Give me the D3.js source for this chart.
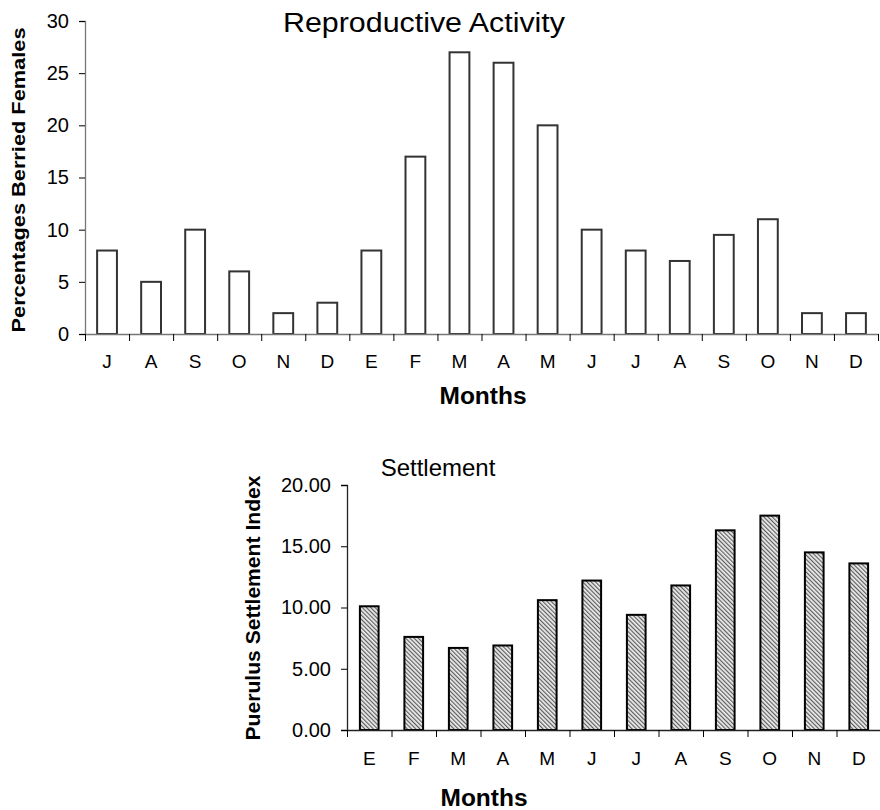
<!DOCTYPE html>
<html><head><meta charset="utf-8">
<script src="https://cdn.jsdelivr.net/npm/d3@7"></script>
<style>body{margin:0;background:#fff}svg{display:block;font-family:"Liberation Sans",Arial,sans-serif}</style>
</head><body>
<script>
const repMonths = ["J","A","S","O","N","D","E","F","M","A","M","J","J","A","S","O","N","D"];
const repValues = [8,5,10,6,2,3,8,17,27,26,20,10,8,7,9.5,11,2,2];
const repTicks = [0,5,10,15,20,25,30];
const setMonths = ["E","F","M","A","M","J","J","A","S","O","N","D"];
const setValues = [10.1,7.6,6.7,6.9,10.6,12.2,9.4,11.8,16.3,17.5,14.5,13.6];
const setTicks = [0,5,10,15,20];

const svg = d3.select("body").append("svg").attr("width",880).attr("height",810);
const defs = svg.append("defs");
const pat = defs.append("pattern").attr("id","hatch").attr("patternUnits","userSpaceOnUse")
  .attr("width",3).attr("height",3).attr("patternTransform","rotate(-45)");
pat.append("rect").attr("width",3).attr("height",3).attr("fill","#ececec");
pat.append("line").attr("x1",0.6).attr("y1",0).attr("x2",0.6).attr("y2",3).attr("stroke","#555").attr("stroke-width",1.1);

function chart(o){
  const g = svg.append("g");
  const x = d3.scaleBand().domain(o.months.map((d,i)=>i)).range([o.x0,o.x1]).paddingInner(o.pad).paddingOuter(o.pad/2);
  const xb = d3.scaleLinear().domain([0,o.months.length]).range([o.x0,o.x1]);
  const y = d3.scaleLinear().domain([0,o.max]).range([o.y0,o.y1]);
  g.selectAll("rect.bar").data(o.values).join("rect").attr("class","bar")
    .attr("x",(d,i)=>x(i)).attr("width",x.bandwidth())
    .attr("y",d=>y(d)).attr("height",d=>y(0)-y(d))
    .attr("fill",o.fill).attr("stroke",o.stroke).attr("stroke-width",2);
  const ya = d3.axisLeft(y).tickValues(o.ticks).tickFormat(o.fmt).tickSize(6).tickPadding(10);
  const yg = g.append("g").attr("transform",`translate(${o.x0},0)`).call(ya);
  yg.select(".domain").attr("stroke",o.axisColor).attr("stroke-width",1.3);
  yg.selectAll(".tick line").attr("stroke","#000");
  yg.selectAll("text").attr("font-size",o.tickFont).attr("fill","#000").style("font-family","'Liberation Sans',Arial,sans-serif");
  const xa = d3.axisBottom(xb).tickValues(d3.range(0,o.months.length+1)).tickFormat("").tickSize(7).tickSizeOuter(0);
  const xg = g.append("g").attr("transform",`translate(0,${o.y0})`).call(xa);
  xg.select(".domain").attr("stroke",o.axisColor).attr("stroke-width",1.3);
  xg.selectAll(".tick line").attr("stroke","#000");
  g.selectAll("text.xl").data(o.months).join("text").attr("class","xl")
    .attr("x",(d,i)=>x(i)+x.bandwidth()/2).attr("y",o.y0+o.labDy)
    .attr("text-anchor","middle").attr("font-size",19).text(d=>d);
  const t = g.append("text").attr("x",o.titleX).attr("y",o.titleY).attr("text-anchor","middle")
    .attr("font-size",o.titleFont).text(o.title);
  if (o.titleLen) t.attr("textLength",o.titleLen).attr("lengthAdjust","spacingAndGlyphs");
  g.append("text").attr("x",o.mX).attr("y",o.mY).attr("text-anchor","middle")
    .attr("font-size",23).attr("font-weight","bold").attr("textLength",87).attr("lengthAdjust","spacingAndGlyphs").text("Months");
  g.append("text").attr("transform",`translate(${o.ylX},${o.ylY}) rotate(-90)`).attr("text-anchor","middle")
    .attr("font-size",o.ylFont).attr("font-weight","bold").attr("textLength",o.ylLen).attr("lengthAdjust","spacingAndGlyphs").text(o.ylabel);
}

chart({months:repMonths, values:repValues, ticks:repTicks, max:30, fmt:d3.format("d"), tickFont:20,
  x0:85, x1:878, y0:334, y1:21, pad:0.55, fill:"#fff", stroke:"#333", axisColor:"#777",
  labDy:34, title:"Reproductive Activity", titleX:424, titleY:32, titleFont:27, titleLen:282,
  mX:483, mY:404,
  ylabel:"Percentages Berried Females", ylX:25, ylY:180, ylFont:18, ylLen:305});

chart({months:setMonths, values:setValues, ticks:setTicks, max:20, fmt:d3.format(".2f"), tickFont:20,
  x0:347, x1:881, y0:730, y1:485, pad:0.58, fill:"url(#hatch)", stroke:"#000", axisColor:"#222",
  labDy:35, title:"Settlement", titleX:438, titleY:476, titleFont:24, titleLen:0,
  mX:484, mY:806,
  ylabel:"Puerulus Settlement Index", ylX:260, ylY:608, ylFont:20, ylLen:265});
</script>
</body></html>
